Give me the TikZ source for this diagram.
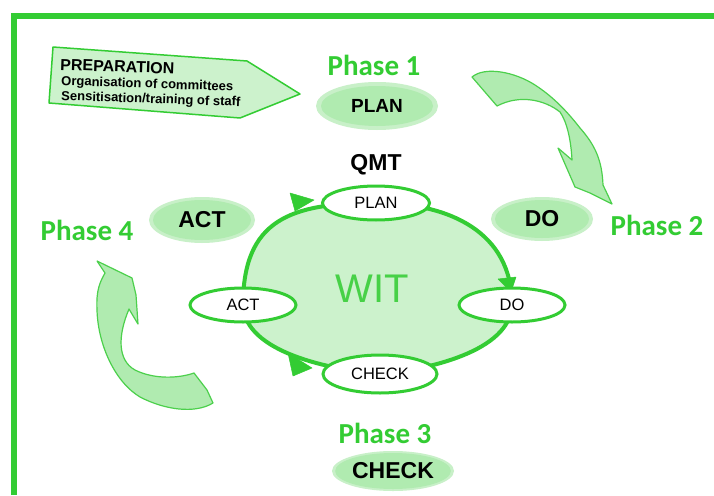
\documentclass[tikz,border=0pt]{standalone}
\usepackage{fontspec}
\setmainfont{Liberation Sans}
\newfontfamily\calfont{Carlito}
\usetikzlibrary{shapes.geometric}
\definecolor{gr}{HTML}{33CC33}
\definecolor{lgr}{HTML}{CCF2CC}
\definecolor{mgr}{HTML}{B0EBB0}
\definecolor{sgr}{HTML}{C8F0C8}
\definecolor{agr}{HTML}{4CD04C}
\tikzset{
  phase/.style={font=\calfont\bfseries\fontsize{29}{29}\selectfont, text=gr, anchor=base, inner sep=0pt},
  bigov/.style={ellipse, fill=mgr, inner sep=0pt, font=\bfseries\fontsize{23}{23}\selectfont},
  glow/.style={fill=sgr},
  smallov/.style={ellipse, draw=gr, line width=3pt, fill=white, inner sep=0pt, font=\fontsize{16.5}{16.5}\selectfont},
  blockarrow/.style={fill=mgr, draw=agr, line width=1.2pt, line join=round},
  headtri/.style={fill=gr, draw=gr, line width=0.5pt, line join=round},
  cyc/.style={fill=lgr, draw=gr, line width=4pt},
  preptext/.style={rotate=-2, anchor=base west, inner sep=0pt, font=\bfseries\fontsize{13}{13}\selectfont}
}
\begin{document}
\begin{tikzpicture}[x=1pt,y=-1pt]
\useasboundingbox (0,0) rectangle (714,495);
\fill[white] (0,0) rectangle (714,495);
% frame
\draw[gr, line width=6pt] (13.5,495) -- (13.5,16) -- (714,16);

% preparation banner
\filldraw[fill=lgr, draw=gr, line width=1.5pt, line join=round]
  (53,47) -- (247,61) -- (300,94) -- (240,118) -- (49,103) -- cycle;
\node[preptext, font=\bfseries\fontsize{16}{16}\selectfont] (prep1) at (60,70) {PREPARATION};
\node[preptext] (prep2) at (61,85) {Organisation of committees};
\node[preptext] (prep3) at (61,100) {Sensitisation/training of staff};

% phase labels
\node[phase] (ph1) at (374,75) {Phase 1};
\node[phase] (ph2) at (657,235) {Phase 2};
\node[phase] (ph3) at (385,443) {Phase 3};
\node[phase] (ph4) at (87,240) {Phase 4};

% phase ovals
\fill[glow] (377,106) ellipse [x radius=61pt, y radius=24pt];
\node[bigov, minimum width=112pt, minimum height=40pt, font=\bfseries\fontsize{19}{19}\selectfont] (oplan) at (377,106) {PLAN};
\fill[glow] (542,219) ellipse [x radius=51pt, y radius=22pt];
\node[bigov, minimum width=94pt, minimum height=38pt] (odo) at (542,219) {DO};
\fill[glow] (202,220) ellipse [x radius=53pt, y radius=23pt];
\node[bigov, minimum width=98pt, minimum height=40pt] (oact) at (202,220) {ACT};
\fill[glow] (393,471) ellipse [x radius=61pt, y radius=20pt];
\node[bigov, minimum width=114pt, minimum height=36pt] (ocheck) at (393,471) {CHECK};

% QMT
\node[font=\bfseries\fontsize{23}{23}\selectfont, anchor=base, inner sep=0pt] (qmt) at (376,170) {QMT};

% cycle
\coordinate (pP) at (376,203);
\coordinate (pD) at (512,305);
\coordinate (pC) at (380,374);
\coordinate (pA) at (243,305);
\path[cyc] (pP) to[out=0, in=90, looseness=1.1] (pD)
  to[out=268, in=5, looseness=0.8] (pC)
  to[out=175, in=272, looseness=0.8] (pA)
  to[out=90, in=180, looseness=1.3] (pP) -- cycle;
\node[font=\fontsize{40}{40}\selectfont, text=gr!90!white, anchor=base, inner sep=0pt] (wit) at (372,302) {WIT};

% arrowheads on the cycle
\filldraw[headtri] (314,200) -- (290,193) -- (295,211) -- cycle;
\filldraw[headtri] (511,292) -- (498,279) -- (516,277) -- cycle;
\filldraw[headtri] (312,368) -- (288,353) -- (293,376) -- cycle;

% small ovals
\node[smallov, minimum width=107pt, minimum height=34pt] (splan) at (pP) {PLAN};
\node[smallov, minimum width=106pt, minimum height=34pt] (sdo) at (pD) {DO};
\node[smallov, minimum width=114pt, minimum height=38pt] (scheck) at (pC) {CHECK};
\node[smallov, minimum width=106pt, minimum height=34pt] (sact) at (pA) {ACT};

% upper right block arrow
\filldraw[blockarrow] (472,77) .. controls (485,66) and (515,72) .. (535,85)
  .. controls (552,96) and (566,110) .. (580,128)
  .. controls (595,145) and (602,160) .. (603,185)
  -- (612,204) -- (590,193) -- (575,187) -- (558,148) -- (572,160)
  .. controls (571,140) and (567,122) .. (560,112)
  .. controls (545,100) and (520,94) .. (497,106) -- cycle;

% lower left block arrow
\filldraw[blockarrow] (97,261) -- (132,278) -- (136,295) -- (138,324) -- (129,309)
  .. controls (118,335) and (117,360) .. (135,370)
  .. controls (155,380) and (180,378) .. (194,373)
  -- (207,390) -- (213,403)
  .. controls (195,414) and (165,410) .. (140,397)
  .. controls (115,382) and (98,345) .. (97,310)
  .. controls (96,290) and (100,282) .. (105,273) -- cycle;
\end{tikzpicture}
\end{document}
